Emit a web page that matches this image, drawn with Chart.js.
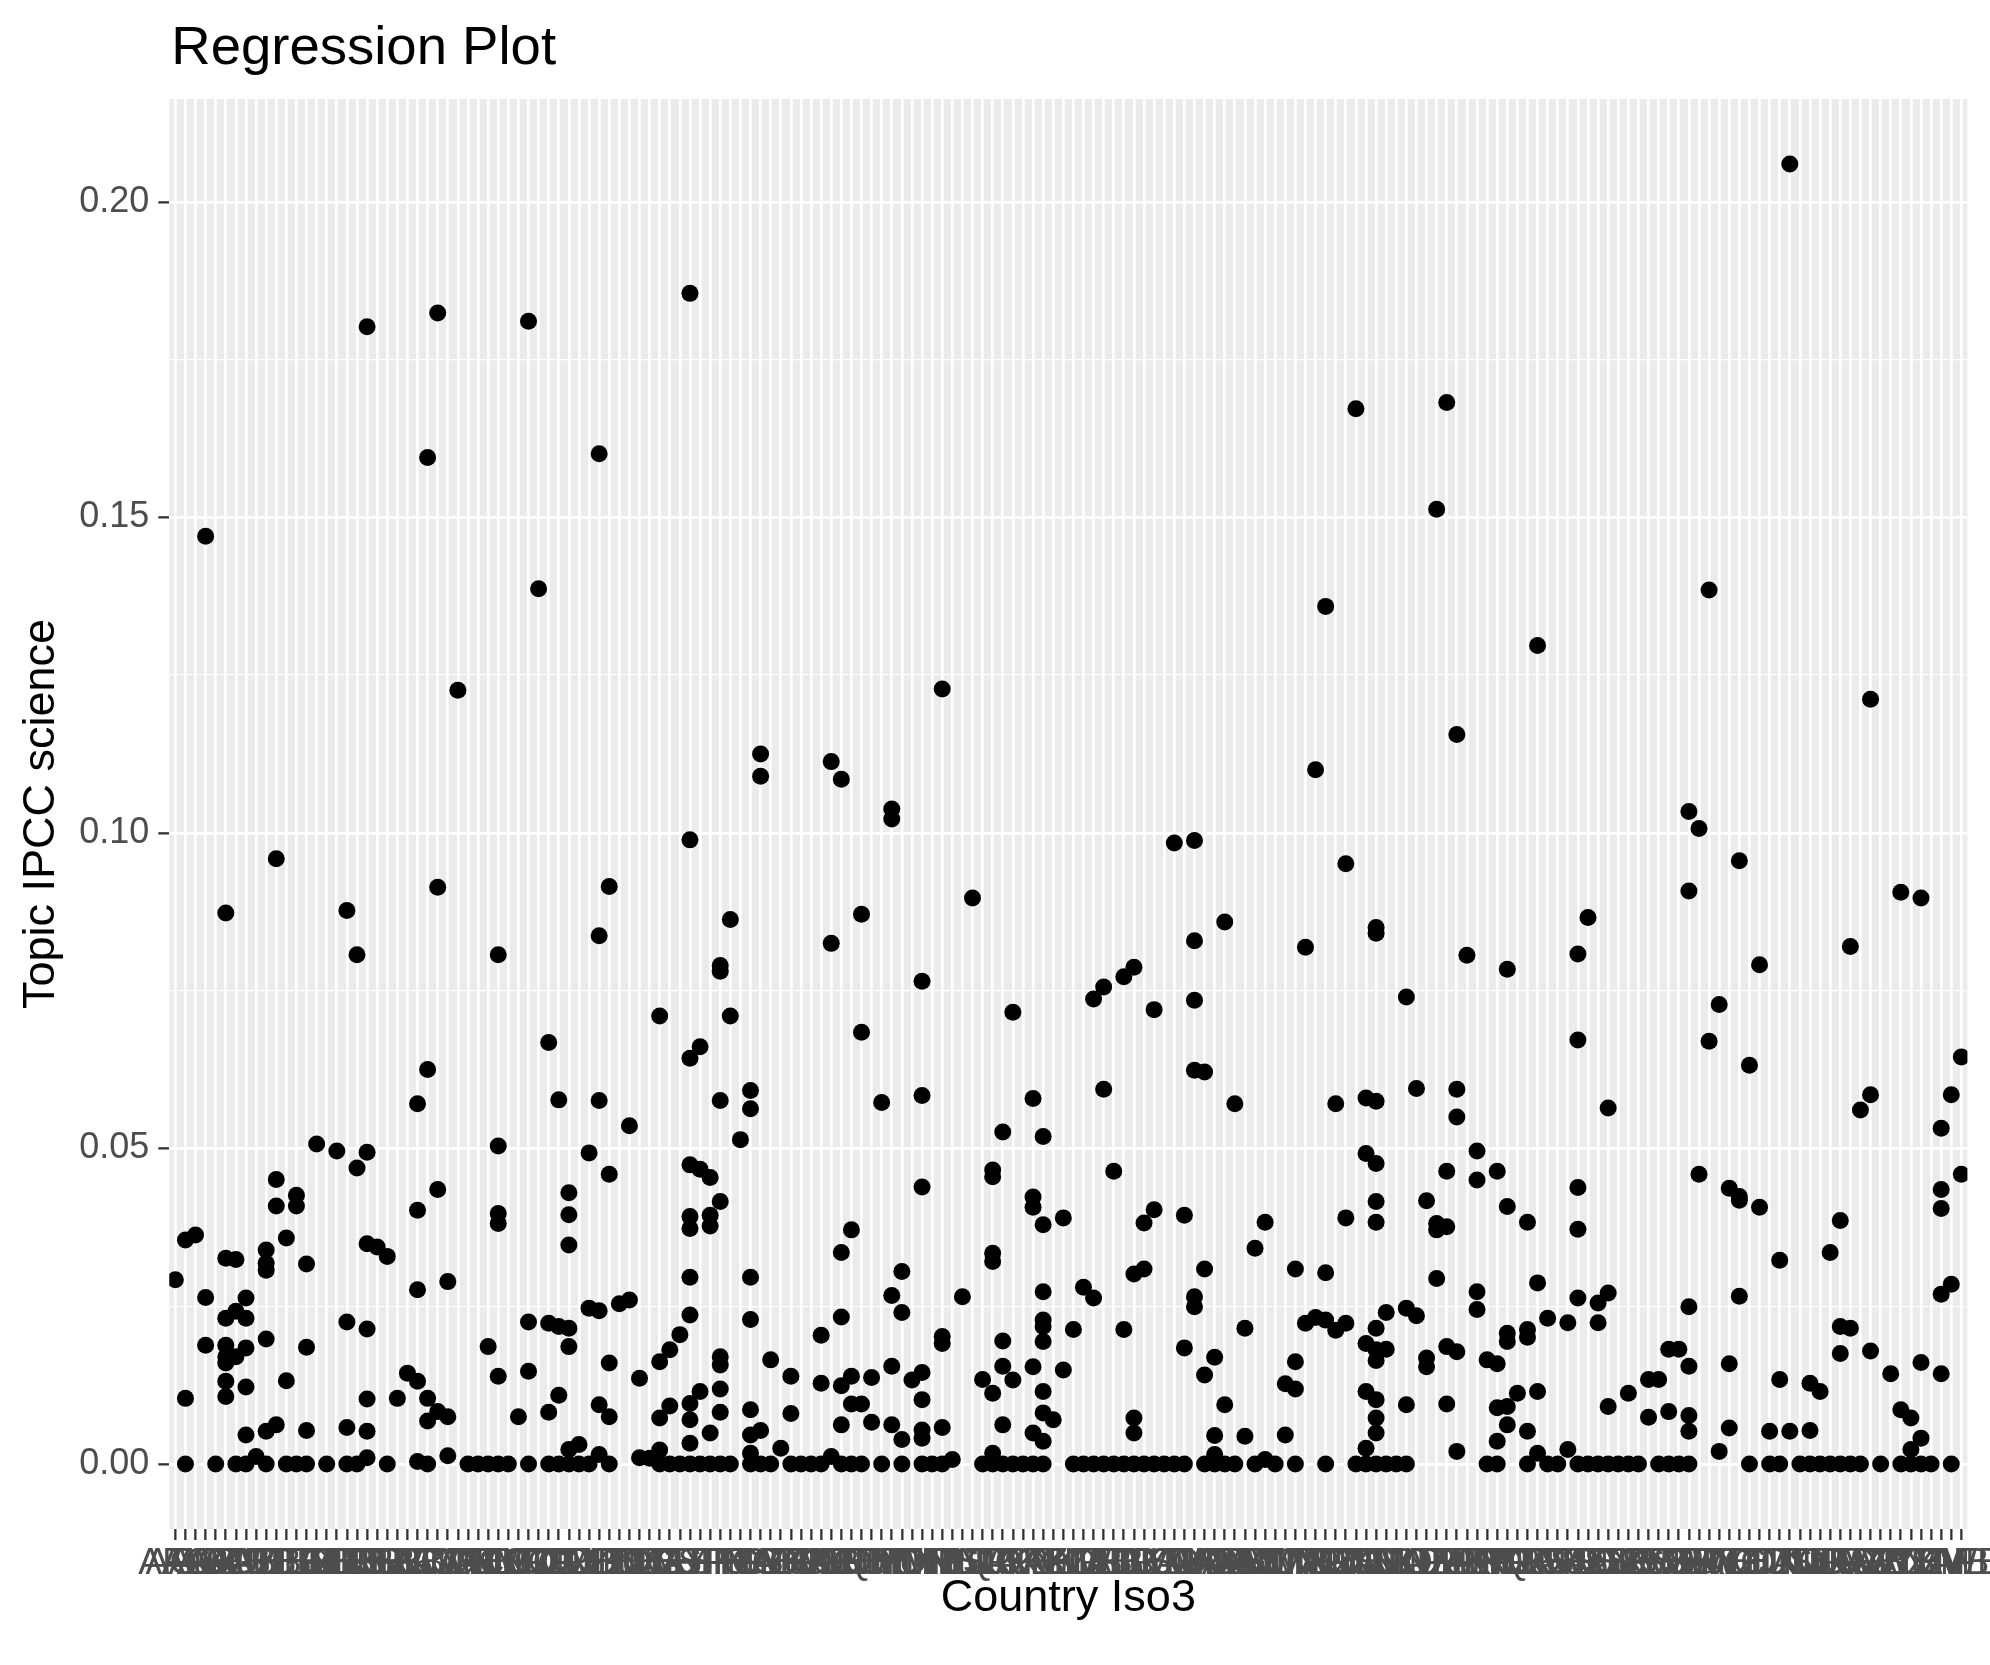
<!DOCTYPE html>
<html>
<head>
<meta charset="utf-8">
<title>Regression Plot</title>
<script src="https://cdn.jsdelivr.net/npm/chart.js@4.4.1/dist/chart.umd.min.js"></script>
<style>
  html, body { margin: 0; padding: 0; background: #ffffff; }
  canvas { display: block; }
</style>
</head>
<body>
<canvas id="plot" width="1990" height="1665"></canvas>
<script>
// x categories (country iso3 codes)
var countries = [
  'AFG','AGO','ALB','ARE','ARG','ARM','ATG','AUS','AUT','AZE',
  'BDI','BEL','BEN','BFA','BGD','BGR','BHR','BHS','BIH','BLR',
  'BLZ','BOL','BRA','BRB','BRN','BTN','BWA','CAF','CAN','CHE',
  'CHL','CHN','CIV','CMR','COD','COG','COL','COM','CPV','CRI',
  'CUB','CYP','CZE','DEU','DJI','DNK','DOM','DZA','ECU','EGY',
  'ERI','ESP','EST','ETH','FIN','FJI','FRA','FSM','GAB','GBR',
  'GEO','GHA','GIN','GMB','GNB','GNQ','GRC','GRD','GTM','GUY',
  'HND','HRV','HTI','HUN','IDN','IND','IRL','IRN','IRQ','ISL',
  'ISR','ITA','JAM','JOR','JPN','KAZ','KEN','KGZ','KHM','KIR',
  'KOR','KWT','LAO','LBN','LBR','LBY','LCA','LKA','LSO','LTU',
  'LUX','LVA','MAR','MDA','MDG','MDV','MEX','MKD','MLI','MLT',
  'MMR','MNE','MNG','MOZ','MRT','MUS','MWI','MYS','NAM','NER',
  'NGA','NIC','NLD','NOR','NPL','NZL','OMN','PAK','PAN','PER',
  'PHL','PNG','POL','PRT','PRY','QAT','ROU','RUS','RWA','SAU',
  'SDN','SEN','SGP','SLB','SLE','SLV','SOM','SRB','STP','SUR',
  'SVK','SVN','SWE','SWZ','SYC','TCD','TGO','THA','TJK','TLS',
  'TTO','TUN','TUR','TZA','UGA','UKR','URY','USA','UZB','VCT',
  'VEN','VNM','VUT','WSM','YEM','ZAF','ZMB','ZWE'
];

// topic share values, one list per country (same order as countries)
var scienceByCountry = [
  [0.0292], [0.0355,0.0104,0], [0.0363], [0.147,0.0264,0.0188], [0],
  [0.0873,0.0326,0.0231,0.0188,0.017,0.016,0.0131,0.0107], [0.0324,0.0242,0.017,0],
  [0.0263,0.0231,0.0184,0.0122,0.0046,0], [0.0012], [0.0339,0.0318,0.0307,0.0198,0.0052,0],
  // 10
  [0.0959,0.0451,0.0409,0.0062], [0.0358,0.0132,0], [0.0426,0.0409,0], [0.0317,0.0185,0.0053,0],
  [0.0507], [0], [0.0496], [0.0877,0.0225,0.0058,0], [0.0807,0.0469,0],
  [0.1802,0.0494,0.0349,0.0214,0.0103,0.0052,0.001],
  // 20
  [0.0344], [0.0329,0], [0.0104], [0.0144], [0.0571,0.0402,0.0276,0.0131,0.0004],
  [0.1595,0.0625,0.0104,0.0068,0], [0.1824,0.0914,0.0435,0.0083], [0.0289,0.0075,0.0013],
  [0.1226], [0],
  // 30
  [0], [0.0186,0], [0.0807,0.0504,0.0397,0.0381,0.0139,0], [0], [0.0075],
  [0.1811,0.0225,0.0147,0], [0.1387], [0.0668,0.0223,0.0082,0], [0.0577,0.0218,0.0109,0],
  [0.043,0.0395,0.0347,0.0215,0.0186,0.0023,0],
  // 40
  [0.0031,0], [0.0493,0.0247,0], [0.1601,0.0837,0.0576,0.0243,0.0094,0.0015],
  [0.0915,0.0459,0.016,0.0075,0], [0.0254], [0.0536,0.026], [0.0136,0.001], [0.0009],
  [0.071,0.0162,0.0073,0.0022,0], [0.0181,0.0092,0],
  // 50
  [0.0205,0], [0.1855,0.0989,0.0643,0.0474,0.0392,0.0373,0.0296,0.0236,0.0096,0.007,0.0033,0],
  [0.0661,0.0467,0.0115,0], [0.0454,0.0394,0.0377,0.0049,0],
  [0.079,0.0781,0.0576,0.0416,0.017,0.0157,0.0119,0.0082,0], [0.0863,0.071,0], [0.0514],
  [0.0592,0.0563,0.0296,0.0229,0.0086,0.0046,0.0017,0], [0.1125,0.109,0.0053,0], [0.0165,0],
  // 60
  [0.0025], [0.0139,0.008,0], [0], [0], [0.0204,0.0128,0], [0.1113,0.0825,0.0012],
  [0.1085,0.0335,0.0233,0.0124,0.0062,0], [0.0371,0.0139,0.0095,0], [0.0871,0.0684,0.0095,0],
  [0.0137,0.0066],
  // 70
  [0.0573,0], [0.1038,0.1022,0.0267,0.0155,0.0062], [0.0305,0.024,0.0039,0], [0.0133],
  [0.0765,0.0584,0.0439,0.0145,0.0102,0.0054,0.0041,0], [0], [0.1228,0.0202,0.0191,0.0058,0],
  [0.0007], [0.0265], [0.0897],
  // 80
  [0.0134,0], [0.0466,0.0455,0.0334,0.0321,0.0112,0.0017,0], [0.0526,0.0195,0.0155,0.0062,0],
  [0.0716,0.0133,0], [0], [0.0579,0.0423,0.0407,0.0154,0.0049,0],
  [0.0519,0.0379,0.0273,0.0228,0.0218,0.0194,0.0115,0.0081,0.0036,0], [0.007], [0.039,0.0149],
  [0.0213,0],
  // 90
  [0.028,0], [0.0737,0.0263,0], [0.0756,0.0594,0], [0.0464,0], [0.0772,0.0213,0],
  [0.0787,0.0301,0.0073,0.0049,0], [0.0382,0.0309,0], [0.072,0.0403,0], [0], [0.0984,0],
  // 100
  [0.0394,0.0184,0], [0.0988,0.0829,0.0735,0.0624,0.0265,0.0249], [0.0621,0.0309,0.0141,0],
  [0.0169,0.0045,0.0015,0], [0.0859,0.0094,0], [0.0571,0], [0.0215,0.0044], [0.0342,0],
  [0.0383,0.0007], [0],
  // 110
  [0.0127,0.0046], [0.0309,0.0162,0.0119,0], [0.0819,0.0223], [0.11,0.0232],
  [0.1359,0.0303,0.0228,0], [0.0571,0.0212], [0.0951,0.039,0.0223], [0.1672,0],
  [0.058,0.0492,0.0191,0.0115,0.0025,0],
  [0.085,0.0841,0.0575,0.0476,0.0416,0.0383,0.0215,0.0181,0.0164,0.0102,0.0073,0.0049,0],
  // 120
  [0.024,0.0182,0], [0], [0.074,0.0247,0.0094,0], [0.0595,0.0235], [0.0417,0.0168,0.0154],
  [0.1513,0.0381,0.0371,0.0294], [0.1682,0.0464,0.0376,0.0186,0.0095],
  [0.1156,0.0594,0.055,0.0178,0.002], [0.0806], [0.0496,0.045,0.0273,0.0245],
  // 130
  [0.0165,0], [0.0464,0.0159,0.0089,0.0036,0], [0.0784,0.0408,0.0207,0.0194,0.0091,0.0062],
  [0.0112], [0.0383,0.0213,0.0201,0.0052,0], [0.1297,0.0287,0.0115,0.0017], [0.0231,0], [0],
  [0.0224,0.0023], [0.0808,0.0672,0.0438,0.0372,0.0263,0],
  // 140
  [0.0866,0], [0.0255,0.0224,0], [0.0564,0.0271,0.0091,0], [0], [0.0112,0], [0],
  [0.0134,0.0074], [0.0134,0], [0.0182,0.0083,0], [0.0182,0],
  // 150
  [0.1034,0.0908,0.0249,0.0155,0.0077,0.0052,0], [0.1007,0.0459], [0.1385,0.067],
  [0.0728,0.002], [0.0437,0.0159,0.0057], [0.0956,0.0424,0.0418,0.0266], [0.0632,0],
  [0.0791,0.0407], [0.0052,0], [0.0323,0.0134,0],
  // 160
  [0.206,0.0052], [0], [0.0128,0.0053,0], [0.0115,0], [0.0335,0],
  [0.0386,0.0218,0.0175,0], [0.082,0.0215,0], [0.0561,0], [0.1212,0.0585,0.0179], [0],
  // 170
  [0.0143], [0.0906,0.0086,0], [0.0073,0.0023,0], [0.0897,0.0161,0.0041,0], [0],
  [0.0532,0.0435,0.0405,0.0269,0.0143], [0.0585,0.0285,0], [0.0645,0.0459]
];

// y axis
var yMajorTicks = [0, 0.05, 0.10, 0.15, 0.20];
var yMajorLabels = ['0.00', '0.05', '0.10', '0.15', '0.20'];
var yMinorTicks = [0.025, 0.075, 0.125, 0.175];
var yRange = [-0.0103, 0.2163];

var fontFamily = '"Liberation Sans", Arial, Helvetica, sans-serif';

var points = [];
for (var idx = 0; idx < scienceByCountry.length; idx++) {
  for (var k = 0; k < scienceByCountry[idx].length; k++) {
    points.push({ x: idx, y: scienceByCountry[idx][k] });
  }
}

function isMajor(ctx) {
  return ctx.tick && yMajorTicks.indexOf(ctx.tick.value) >= 0;
}

// grey panel behind the grid
var panelBackground = {
  id: 'panelBackground',
  beforeDraw: function(chart) {
    var a = chart.chartArea;
    var c = chart.ctx;
    c.save();
    c.fillStyle = '#EBEBEB';
    c.fillRect(a.left, a.top, a.right - a.left, a.bottom - a.top);
    c.restore();
  }
};

// left aligned plot title, like ggplot's
var plotTitle = {
  id: 'plotTitle',
  afterDraw: function(chart) {
    var c = chart.ctx;
    c.save();
    c.font = '54.5px ' + fontFamily;
    c.fillStyle = '#000000';
    c.textAlign = 'left';
    c.textBaseline = 'alphabetic';
    c.fillText('Regression Plot', chart.chartArea.left + 2, 64);
    c.restore();
  }
};

var ctx = document.getElementById('plot').getContext('2d');
var chart = new Chart(ctx, {
  type: 'scatter',
  data: {
    datasets: [{
      data: points,
      backgroundColor: '#000000',
      borderWidth: 0,
      pointRadius: 8.5,
      pointHoverRadius: 8.5,
      clip: 0
    }]
  },
  options: {
    responsive: false,
    animation: false,
    devicePixelRatio: 1,
    events: [],
    layout: { padding: { top: 99, left: 0, right: 22.6, bottom: 0 } },
    plugins: {
      legend: { display: false },
      tooltip: { enabled: false },
      title: { display: false }
    },
    scales: {
      x: {
        type: 'linear',
        min: -0.6,
        max: countries.length - 0.4,
        afterBuildTicks: function(scale) {
          scale.ticks = countries.map(function(c, i) { return { value: i }; });
        },
        afterFit: function(scale) {
          scale.height = 136;
          scale.paddingLeft = 0;
          scale.paddingRight = 0;
        },
        ticks: {
          autoSkip: false,
          maxRotation: 0,
          minRotation: 0,
          padding: 2,
          color: '#4D4D4D',
          font: { family: fontFamily, size: 36 },
          callback: function(value) { return countries[value]; }
        },
        grid: {
          color: '#FFFFFF',
          lineWidth: 2.7,
          tickColor: '#333333',
          tickLength: 11,
          tickWidth: 2.3
        },
        border: { display: false },
        title: {
          display: true,
          text: 'Country Iso3',
          color: '#000000',
          font: { family: fontFamily, size: 45 },
          padding: { top: 0, bottom: 39 }
        }
      },
      y: {
        min: yRange[0],
        max: yRange[1],
        afterBuildTicks: function(scale) {
          scale.ticks = yMajorTicks.concat(yMinorTicks).map(function(v) { return { value: v }; });
        },
        afterFit: function(scale) {
          scale.width = 169.3;
          scale.paddingTop = 0;
          scale.paddingBottom = 0;
        },
        ticks: {
          padding: 9,
          color: '#4D4D4D',
          font: { family: fontFamily, size: 36 },
          callback: function(value) {
            var i = yMajorTicks.indexOf(value);
            return i >= 0 ? yMajorLabels[i] : '';
          }
        },
        grid: {
          color: '#FFFFFF',
          lineWidth: function(c) { return isMajor(c) ? 2.7 : 1.35; },
          tickColor: function(c) { return isMajor(c) ? '#333333' : 'rgba(0,0,0,0)'; },
          tickLength: 11,
          tickWidth: 2.3
        },
        border: { display: false },
        title: {
          display: true,
          text: 'Topic IPCC science',
          color: '#000000',
          font: { family: fontFamily, size: 45 },
          padding: { top: 15, bottom: 0 }
        }
      }
    }
  },
  plugins: [panelBackground, plotTitle]
});
</script>
</body>
</html>
